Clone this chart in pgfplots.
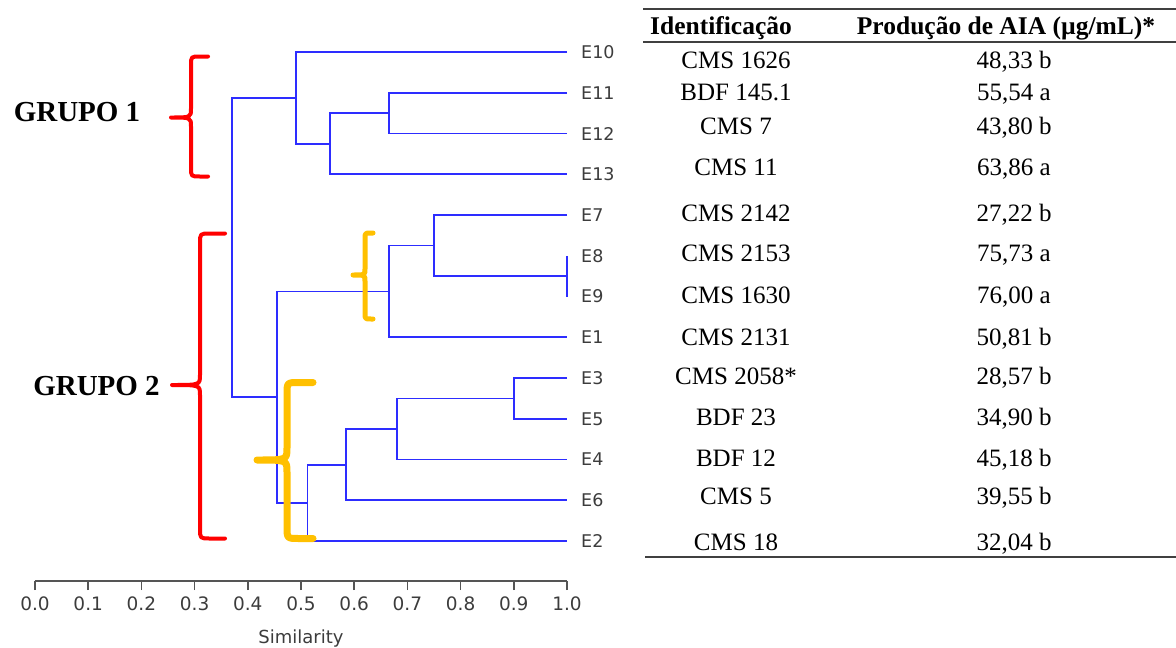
\documentclass[border=0pt]{standalone}
\usepackage{fontspec}
\setmainfont{Liberation Serif}
\newfontfamily\tah{DejaVu Sans}
\usepackage{pgfplots}
\pgfplotsset{compat=1.18}
\definecolor{dblue}{RGB}{45,45,255}
\definecolor{gorange}{RGB}{255,192,0}
\definecolor{ltext}{RGB}{60,60,60}
\definecolor{axgray}{RGB}{85,85,85}
\newcommand{\curly}[8]{%
 \draw[#1] (#2,#5) -- ({#3+#8},#5) .. controls (#3,#5) .. (#3,{#5+#8}) -- (#3,{#6-#8}) .. controls (#3,#6) .. (#4,#6) .. controls (#3,#6) .. (#3,{#6+#8}) -- (#3,{#7-#8}) .. controls (#3,#7) .. ({#3+#8},#7) -- (#2,#7);}
\begin{document}
\begin{tikzpicture}
\useasboundingbox (0,0) rectangle (1176pt,-648pt);
\begin{axis}[
  at={(35pt,-581pt)}, anchor=south west,
  scale only axis, width=532pt, height=529pt,
  xmin=0, xmax=1, ymin=0.02, ymax=13,
  axis x line=bottom, axis y line=none,
  x axis line style={-, line width=1.6pt, color=axgray},
  xtick={0,0.1,0.2,0.3,0.4,0.5,0.6,0.7,0.8,0.9,1},
  tick align=outside, major tick length=9pt,
  xtick style={line width=1.6pt, color=axgray},
  /pgf/number format/assume math mode=true,
  xticklabel style={font=\tah\fontsize{18.5}{18.5}\selectfont, text=ltext, yshift=-3pt,
    /pgf/number format/fixed, /pgf/number format/fixed zerofill, /pgf/number format/precision=1},
  clip=false,
  dend/.style={color=dblue, solid, line width=1.7pt, mark=none},
]
\addplot[dend] coordinates {(1,12) (0.665,12) (0.665,11) (1,11)};
\addplot[dend] coordinates {(0.665,11.5) (0.555,11.5) (0.555,10) (1,10)};
\addplot[dend] coordinates {(1,13) (0.49,13) (0.49,10.75) (0.555,10.75)};
\addplot[dend] coordinates {(1,8) (1,7)};
\addplot[dend] coordinates {(1,9) (0.75,9) (0.75,7.5) (1,7.5)};
\addplot[dend] coordinates {(0.75,8.25) (0.665,8.25) (0.665,6) (1,6)};
\addplot[dend] coordinates {(1,5) (0.9,5) (0.9,4) (1,4)};
\addplot[dend] coordinates {(0.9,4.5) (0.68,4.5) (0.68,3) (1,3)};
\addplot[dend] coordinates {(0.68,3.75) (0.584,3.75) (0.584,2) (1,2)};
\addplot[dend] coordinates {(0.584,2.875) (0.512,2.875) (0.512,1) (1,1)};
\addplot[dend] coordinates {(0.665,7.125) (0.455,7.125) (0.455,1.9375) (0.512,1.9375)};
\addplot[dend] coordinates {(0.49,11.875) (0.37,11.875) (0.37,4.53125) (0.455,4.53125)};
\foreach \lab/\yy in {E10/13,E11/12,E12/11,E13/10,E7/9,E8/8,E9/7,E1/6,E3/5,E5/4,E4/3,E6/2,E2/1}{
  \edef\tmp{\noexpand\node[anchor=west, xshift=13pt, inner sep=1pt, font=\noexpand\tah\noexpand\fontsize{17.5}{17.5}\noexpand\selectfont, text=ltext] at (axis cs:1,\yy) {\lab};}
  \tmp
}
\end{axis}
\begin{scope}[x=1pt, y=-1pt]
\node[anchor=base, font=\tah\fontsize{18}{18}\selectfont, text=ltext] at (301,643) {Similarity};
% braces
\curly{red, line width=4pt, line cap=round, line join=round}{208}{191}{171}{56.5}{117.5}{176.5}{9}
\curly{red, line width=4pt, line cap=round, line join=round}{225}{200}{172}{233.5}{385}{538.5}{10}
\curly{gorange, line width=7pt, line cap=round, line join=round}{313}{287}{257}{382.5}{460}{538.5}{12}
\curly{gorange, line width=5pt, line cap=round, line join=round}{373}{365}{353}{233}{275}{319}{6}
\node[anchor=base, font=\bfseries\fontsize{29}{29}\selectfont] at (77,121.5) {GRUPO 1};
\node[anchor=base, font=\bfseries\fontsize{29}{29}\selectfont] at (96.5,395) {GRUPO 2};
% table
\draw[line width=1.6pt, black!75] (643,9) -- (1176,9);
\draw[line width=1.6pt, black!75] (643,42) -- (1176,42);
\draw[line width=1.6pt, black!75] (645,557) -- (1176,557);
\node[anchor=base, font=\bfseries\fontsize{25.5}{25.5}\selectfont] at (721,34) {Identificação};
\node[anchor=base, font=\bfseries\fontsize{25.5}{25.5}\selectfont] at (1006,34) {Produção de AIA (µg/mL)*};
\foreach \id/\val/\yy in {CMS 1626/{48,33 b}/68, BDF 145.1/{55,54 a}/100, CMS 7/{43,80 b}/134, CMS 11/{63,86 a}/175, CMS 2142/{27,22 b}/221, CMS 2153/{75,73 a}/261, CMS 1630/{76,00 a}/303, CMS 2131/{50,81 b}/345, CMS 2058*/{28,57 b}/384, BDF 23/{34,90 b}/425, BDF 12/{45,18 b}/466, CMS 5/{39,55 b}/504, CMS 18/{32,04 b}/550}{
  \node[anchor=base, font=\fontsize{25}{25}\selectfont] at (736,\yy) {\id};
  \node[anchor=base, font=\fontsize{25}{25}\selectfont] at (1014,\yy) {\val};
}
\end{scope}
\end{tikzpicture}
\end{document}
